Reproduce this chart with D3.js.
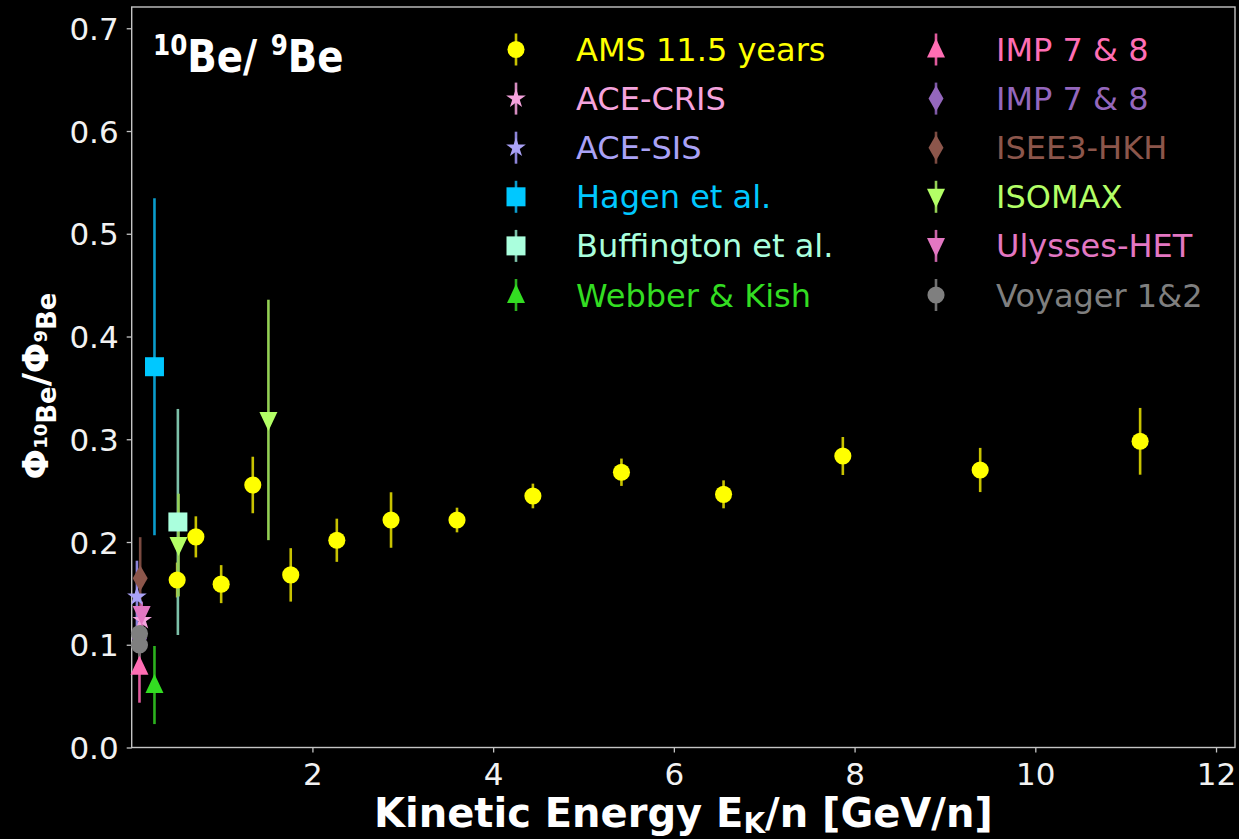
<!DOCTYPE html>
<html>
<head>
<meta charset="utf-8">
<script src="https://cdn.jsdelivr.net/npm/d3@7"></script>
<style>
  html, body { margin: 0; padding: 0; background: #000; }
  svg { display: block; }
  text { font-family: "DejaVu Sans", sans-serif; }
</style>
</head>
<body>
<div id="chart"></div>
<script>
// ---- data: 10Be/9Be flux ratio vs kinetic energy per nucleon ----
const amsEnergy = [0.503, 0.71, 0.99, 1.34, 1.76, 2.27, 2.87, 3.60, 4.44, 5.42, 6.55, 7.87, 9.39, 11.16];
const amsRatio  = [0.163, 0.205, 0.159, 0.2555, 0.168, 0.2017, 0.2214, 0.2214, 0.2448, 0.2679, 0.2464, 0.2837, 0.2701, 0.298];
const amsError  = [0.017, 0.020, 0.0185, 0.0275, 0.026, 0.021, 0.027, 0.012, 0.012, 0.0133, 0.0136, 0.0185, 0.0215, 0.0325];

const aceCrisEnergy = [0.116], aceCrisRatio = [0.124], aceCrisError = [0.012];
const aceSisEnergy  = [0.058], aceSisRatio  = [0.1468], aceSisError = [0.035];
const hagenEnergy   = [0.252], hagenRatio   = [0.3706], hagenError  = [0.164];
const buffEnergy    = [0.511], buffRatio    = [0.2195], buffError   = [0.11];
const webberEnergy  = [0.252], webberRatio  = [0.0608], webberError = [0.038];
const imp1Energy    = [0.086], imp1Ratio    = [0.0786], imp1Error   = [0.035];
const imp2Energy    = [0.086], imp2Ratio    = [0.106],  imp2Error   = [0.012];
const iseeEnergy    = [0.094], iseeRatio    = [0.1647], iseeError   = [0.04];
const isomaxEnergy  = [0.518, 1.513], isomaxRatio = [0.197, 0.3188], isomaxError = [0.05, 0.117];
const ulyssesEnergy = [0.11],  ulyssesRatio = [0.13],   ulyssesError = [0.012];
const voyagerEnergy = [0.086, 0.086], voyagerRatio = [0.111, 0.0998], voyagerError = [0.01, 0.012];

const seriesNames = ["AMS 11.5 years", "ACE-CRIS", "ACE-SIS", "Hagen et al.", "Buffington et al.", "Webber & Kish",
                     "IMP 7 & 8", "IMP 7 & 8", "ISEE3-HKH", "ISOMAX", "Ulysses-HET", "Voyager 1&2"];
const seriesColors = ["#ffff00", "#f5a3dd", "#aaa2f6", "#00c8ff", "#aaffdd", "#33dd22",
                      "#ff6eb4", "#9467bd", "#8c564b", "#b3ff66", "#e377c2", "#7f7f7f"];
const barColors    = ["#c8c200", "#d58cc0", "#8c84d8", "#0a9ccc", "#7cc0a8", "#2cb21e",
                      "#e05a9c", "#7c58a4", "#7a4a40", "#94d054", "#c864a8", "#707070"];
const seriesMarkers = ["circle", "star", "star", "square", "square", "triUp",
                       "triUp", "diamond", "diamond", "triDown", "triDown", "circle"];

const xTicks = [2, 4, 6, 8, 10, 12];
const yTicks = [0.0, 0.1, 0.2, 0.3, 0.4, 0.5, 0.6, 0.7];

const pack = (xs, ys, es) => xs.map((x, i) => ({x, y: ys[i], e: es[i]}));
const seriesData = [
  pack(amsEnergy, amsRatio, amsError),
  pack(aceCrisEnergy, aceCrisRatio, aceCrisError),
  pack(aceSisEnergy, aceSisRatio, aceSisError),
  pack(hagenEnergy, hagenRatio, hagenError),
  pack(buffEnergy, buffRatio, buffError),
  pack(webberEnergy, webberRatio, webberError),
  pack(imp1Energy, imp1Ratio, imp1Error),
  pack(imp2Energy, imp2Ratio, imp2Error),
  pack(iseeEnergy, iseeRatio, iseeError),
  pack(isomaxEnergy, isomaxRatio, isomaxError),
  pack(ulyssesEnergy, ulyssesRatio, ulyssesError),
  pack(voyagerEnergy, voyagerRatio, voyagerError)
];

// ---- layout ----
const W = 1239, H = 839;
const plot = {left: 131.7, right: 1235, top: 7, bottom: 747.5};

const svg = d3.select("#chart").append("svg").attr("width", W).attr("height", H);
svg.append("rect").attr("width", W).attr("height", H).attr("fill", "#000");

const x = d3.scaleLinear().domain([0, 12.21]).range([plot.left, plot.right]);
const y = d3.scaleLinear().domain([0, 0.7207]).range([plot.bottom, plot.top]);

// marker shapes
function markerPath(kind) {
  switch (kind) {
    case "circle": return d3.symbol(d3.symbolCircle, 230)();
    case "square": return d3.symbol(d3.symbolSquare, 361)();
    case "star": return d3.symbol(d3.symbolStar, 120)();
    case "triUp": return "M0,-11L9,8L-9,8Z";
    case "triDown": return "M0,11L9,-8L-9,-8Z";
    case "diamond": return "M0,-13L7.5,0L0,13L-7.5,0Z";
  }
}

// ---- axes ----
const spineColor = "#c4c4c4";
const xAxis = d3.axisBottom(x).tickValues(xTicks).tickSize(5).tickPadding(8).tickFormat(d3.format("d"));
const yAxis = d3.axisLeft(y).tickValues(yTicks).tickSize(5).tickPadding(8).tickFormat(d3.format(".1f"));

const gx = svg.append("g").attr("transform", `translate(0,${plot.bottom})`).call(xAxis);
const gy = svg.append("g").attr("transform", `translate(${plot.left},0)`).call(yAxis);
[gx, gy].forEach(g => {
  g.select(".domain").remove();
  g.selectAll(".tick line").attr("stroke", spineColor).attr("stroke-width", 1.3);
  g.selectAll(".tick text").attr("fill", "#f2f2f2").attr("font-size", 31)
    .attr("font-family", "DejaVu Sans");
});
gx.selectAll(".tick text").attr("dy", "0.78em");
gy.selectAll(".tick text").attr("dy", "0.36em");

// frame
svg.append("rect")
  .attr("x", plot.left).attr("y", plot.top)
  .attr("width", plot.right - plot.left).attr("height", plot.bottom - plot.top)
  .attr("fill", "none").attr("stroke", spineColor).attr("stroke-width", 1.4);

// ---- data layer ----
const dataLayer = svg.append("g");

// error bars first, then markers (AMS on top)
seriesData.forEach((pts, i) => {
  dataLayer.append("g").selectAll("line").data(pts).join("line")
    .attr("x1", d => x(d.x)).attr("x2", d => x(d.x))
    .attr("y1", d => y(d.y - d.e)).attr("y2", d => y(d.y + d.e))
    .attr("stroke", barColors[i]).attr("stroke-width", 2.6);
});
const drawOrder = [1, 2, 3, 4, 5, 6, 7, 8, 9, 10, 11, 0];
drawOrder.forEach(i => {
  dataLayer.append("g").selectAll("path").data(seriesData[i]).join("path")
    .attr("transform", d => `translate(${x(d.x)},${y(d.y)})`)
    .attr("d", markerPath(seriesMarkers[i]))
    .attr("fill", seriesColors[i]);
});

// ---- legend ----
const legendCols = [{mx: 516, tx: 576, y0: 49.5}, {mx: 936, tx: 996, y0: 49.5}];
const rowStep = 49.1;
seriesNames.forEach((name, i) => {
  const col = legendCols[Math.floor(i / 6)];
  const cy = col.y0 + (i % 6) * rowStep;
  const g = svg.append("g");
  g.append("line").attr("x1", col.mx).attr("x2", col.mx)
    .attr("y1", cy - 16).attr("y2", cy + 16)
    .attr("stroke", barColors[i]).attr("stroke-width", 2.6);
  g.append("path").attr("transform", `translate(${col.mx},${cy})`)
    .attr("d", markerPath(seriesMarkers[i])).attr("fill", seriesColors[i]);
  g.append("text").attr("x", col.tx).attr("y", cy + 11.5)
    .attr("font-size", 32).attr("fill", seriesColors[i]).text(name);
});

// ---- axis titles ----
const xLabel = svg.append("text")
  .attr("x", (plot.left + plot.right) / 2).attr("y", 827)
  .attr("text-anchor", "middle").attr("font-weight", "bold")
  .attr("font-size", 40).attr("fill", "#fff");
xLabel.append("tspan").text("Kinetic Energy E");
xLabel.append("tspan").attr("font-size", 28).attr("dy", 6).text("K");
xLabel.append("tspan").attr("dy", -6).text("/n [GeV/n]");

const yLabel = svg.append("text")
  .attr("transform", "translate(48,386) rotate(-90)")
  .attr("text-anchor", "middle").attr("font-weight", "bold")
  .attr("font-size", 36).attr("fill", "#fff");
yLabel.append("tspan").text("Φ");
yLabel.append("tspan").attr("font-size", 18).attr("dy", -1).text("10");
yLabel.append("tspan").attr("font-size", 26).attr("dy", 9).text("Be");
yLabel.append("tspan").attr("dy", -8).text("/Φ");
yLabel.append("tspan").attr("font-size", 18).attr("dy", -1).text("9");
yLabel.append("tspan").attr("font-size", 26).attr("dy", 9).text("Be");

// ---- panel title ----
const title = svg.append("text")
  .attr("transform", "translate(153,72) scale(0.88,1)")
  .attr("font-family", "Lato, 'Open Sans', sans-serif").attr("font-weight", "bold")
  .attr("font-size", 44).attr("fill", "#fff");
title.append("tspan").attr("font-size", 28).attr("dy", -17).text("10");
title.append("tspan").attr("dy", 17).text("Be/ ");
title.append("tspan").attr("font-size", 28).attr("dy", -17).text("9");
title.append("tspan").attr("dy", 17).text("Be");
</script>
</body>
</html>
